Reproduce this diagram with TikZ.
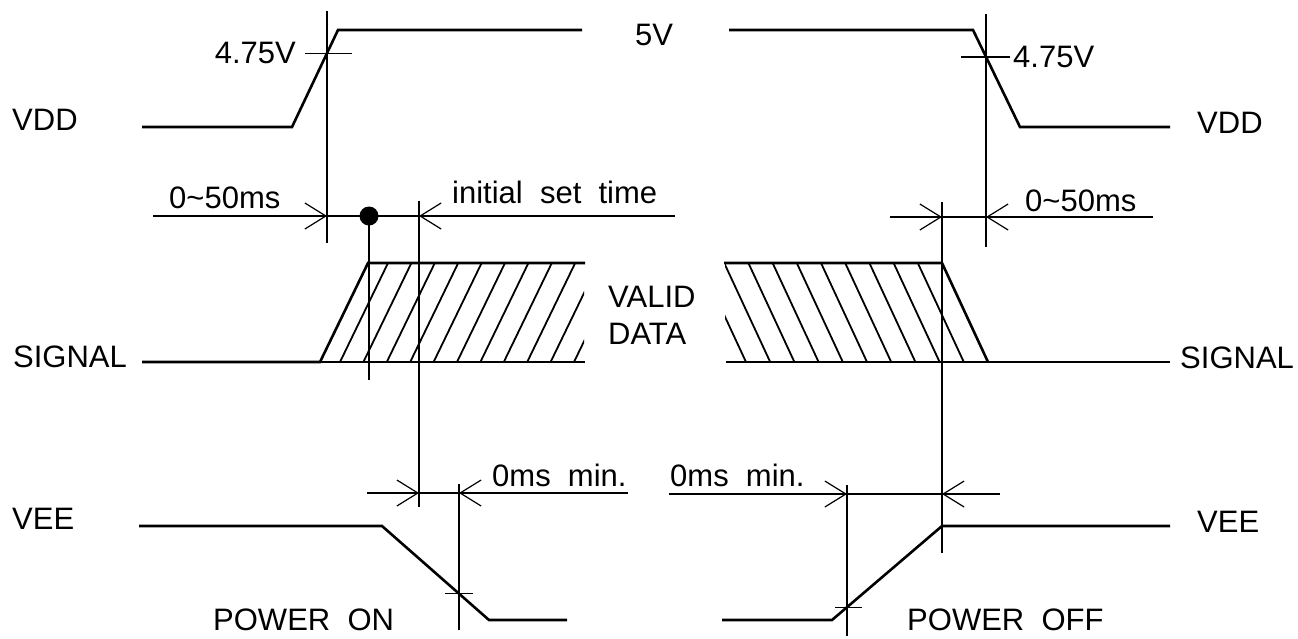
\documentclass[tikz,border=0pt]{standalone}
\usepackage{fontspec}
\setmainfont{Liberation Sans}
\usetikzlibrary{arrows.meta}
\begin{document}
\begin{tikzpicture}[x=1pt,y=-1pt,
  wave/.style={line width=2.6pt, line join=miter},
  thinline/.style={line width=1.2pt},
  hatchline/.style={line width=1.8pt},
  dimarrow/.style={line width=1.2pt, -{Straight Barb[length=21pt,width=26pt]}},
  lbl/.style={inner sep=0pt, font=\fontsize{31}{36}\selectfont, anchor=base west},
  lblr/.style={lbl, anchor=base east},
]
\useasboundingbox (0,0) rectangle (1298,638);
% ---------- VDD ----------
\coordinate (vdA) at (142,127);
\coordinate (vdB) at (292,127);
\coordinate (vdC) at (338,30);
\coordinate (vdD) at (582,30);
\coordinate (vdE) at (729,30);
\coordinate (vdF) at (973,30);
\coordinate (vdG) at (1020,127);
\coordinate (vdH) at (1170,127);
\draw[wave] (vdA) -- (vdB) -- (vdC) -- (vdD);
\draw[wave] (vdE) -- (vdF) -- (vdG) -- (vdH);
% ---------- SIGNAL ----------
\coordinate (sgA) at (142,362);
\coordinate (sgB) at (320,362);
\coordinate (sgC) at (368,263);
\coordinate (sgD) at (585,263);
\coordinate (sgE) at (585,362);
\coordinate (sgF) at (724,263);
\coordinate (sgG) at (942,263);
\coordinate (sgH) at (988,362);
\coordinate (sgI) at (726,362);
\coordinate (sgJ) at (1170,362);
\draw[wave] (sgA) -- (sgB) -- (sgC) -- (sgD);
\draw[wave] (sgB) -- (sgE);
\draw[wave] (sgF) -- (sgG) -- (sgH);
\draw[wave] (sgI) -- (sgJ);
\begin{scope}
  \clip (300,250) rectangle (584,375);
  \foreach \k in {0,...,10} { \draw[hatchline] ({340+23.4*\k},362) -- ++(48,-99); }
\end{scope}
\begin{scope}
  \clip (725,250) rectangle (1000,375);
  \foreach \k in {1,...,10} { \draw[hatchline] ({942-24.2*\k},263) -- ++(46,99); }
\end{scope}
% ---------- VEE ----------
\coordinate (veA) at (139,526);
\coordinate (veB) at (382,526);
\coordinate (veC) at (489,620);
\coordinate (veD) at (567,620);
\coordinate (veE) at (722,620);
\coordinate (veF) at (832,620);
\coordinate (veG) at (942,526);
\coordinate (veH) at (1170,526);
\draw[wave] (veA) -- (veB) -- (veC) -- (veD);
\draw[wave] (veE) -- (veF) -- (veG) -- (veH);
% ---------- vertical reference lines ----------
\draw[thinline] (327,11) -- (327,243);
\draw[thinline] (369,216) -- (369,380);
\draw[thinline] (419,201) -- (419,507);
\draw[thinline] (459,484) -- (459,630);
\draw[thinline] (847,485) -- (847,636);
\draw[thinline] (942,202) -- (942,553);
\draw[thinline] (986,14) -- (986,247);
% ---------- level ticks ----------
\draw[thinline] (305,53.2) -- (352,53.2);
\draw[thinline] (961,57) -- (1010,57);
\draw[thinline] (445,593.7) -- (473,593.7);
\draw[thinline] (835,607.2) -- (862,607.2);
% ---------- dimension lines ----------
\coordinate (dA1) at (153,216);
\coordinate (dA2) at (327,216);
\coordinate (dA3) at (419,216);
\coordinate (dA4) at (675,216);
\draw[dimarrow] (dA1) -- (dA2);
\draw[thinline] (dA2) -- (dA3);
\draw[dimarrow] (dA4) -- (dA3);
\fill (369,216) circle[radius=9.5];
\coordinate (dB1) at (890,217);
\coordinate (dB2) at (942,217);
\coordinate (dB3) at (986,217);
\coordinate (dB4) at (1153,217);
\draw[dimarrow] (dB1) -- (dB2);
\draw[thinline] (dB2) -- (dB3);
\draw[dimarrow] (dB4) -- (dB3);
\coordinate (dC1) at (367,493);
\coordinate (dC2) at (419,493);
\coordinate (dC3) at (459,493);
\coordinate (dC4) at (628,493);
\draw[dimarrow] (dC1) -- (dC2);
\draw[thinline] (dC2) -- (dC3);
\draw[dimarrow] (dC4) -- (dC3);
\coordinate (dD1) at (669,494);
\coordinate (dD2) at (847,494);
\coordinate (dD3) at (942,494);
\coordinate (dD4) at (1000,494);
\draw[dimarrow] (dD1) -- (dD2);
\draw[thinline] (dD2) -- (dD3);
\draw[dimarrow] (dD4) -- (dD3);
% ---------- labels ----------
\node[lbl] (lVDD) at (12,130) {VDD};
\node[lbl] (lSIG) at (13,367) {SIGNAL};
\node[lbl] (lVEE) at (12,529) {VEE};
\node[lbl] (rVDD) at (1197,133) {VDD};
\node[lbl] (rSIG) at (1180,368) {SIGNAL};
\node[lbl] (rVEE) at (1197,532) {VEE};
\node[lblr] (v475l) at (296,63) {4.75V};
\node[lbl] (v475r) at (1013,67) {4.75V};
\node[lbl] (v5) at (635,45) {5V};
\node[lbl] (t050l) at (169,208) {0\char`\~50ms};
\node[lbl] (t050r) at (1025,211) {0\char`\~50ms};
\node[lbl] (tinit) at (452,203) {initial\ \ set\ \ time};
\node[lbl] (tvalid) at (608,307) {VALID};
\node[lbl] (tdata) at (608,344) {DATA};
\node[lbl] (t0l) at (492,486) {0ms\ \ min.};
\node[lbl] (t0r) at (670,486) {0ms\ \ min.};
\node[lbl] (pon) at (213,630) {POWER\ \ ON};
\node[lbl] (poff) at (907,630) {POWER\ \ OFF};
\end{tikzpicture}
\end{document}
